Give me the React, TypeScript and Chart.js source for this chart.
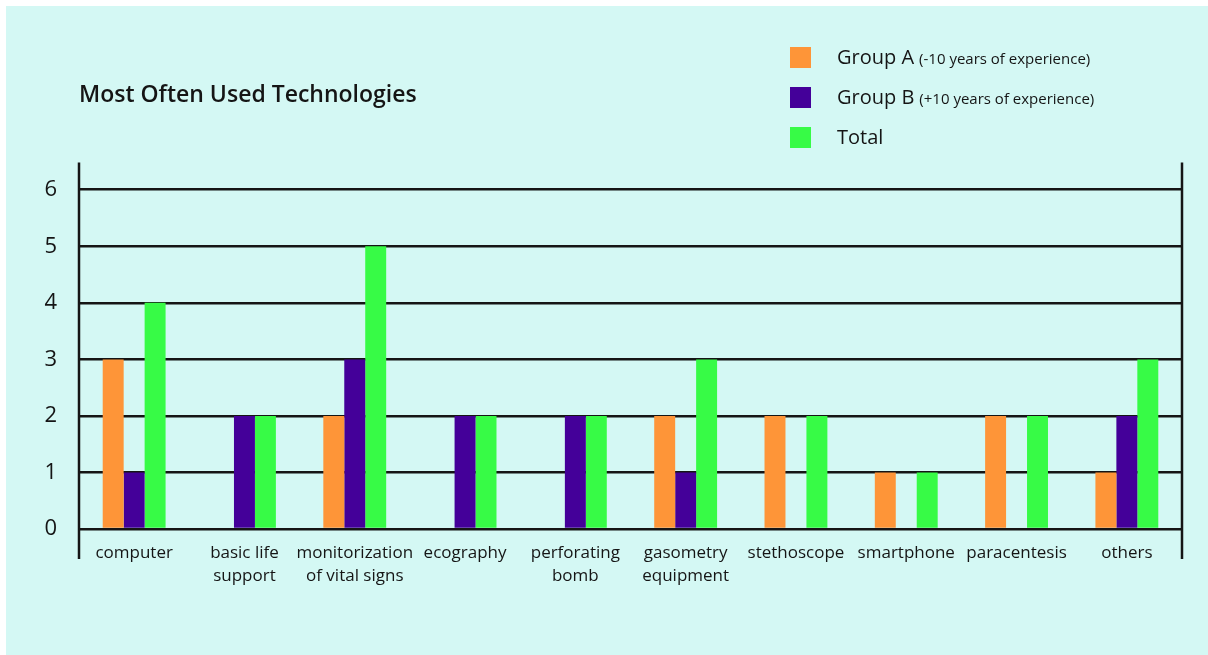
import React, { useEffect, useRef } from "react";
import { Chart, registerables } from "chart.js";

Chart.register(...registerables);

const categories: string[][] = [
  ["computer"],
  ["basic life", "support"],
  ["monitorization", "of vital signs"],
  ["ecography"],
  ["perforating", "bomb"],
  ["gasometry", "equipment"],
  ["stethoscope"],
  ["smartphone"],
  ["paracentesis"],
  ["others"],
];

const groupA: number[] = [3, 0, 2, 0, 0, 2, 2, 1, 2, 1];
const groupB: number[] = [1, 2, 3, 2, 2, 1, 0, 0, 0, 2];
const total: number[] = [4, 2, 5, 2, 2, 3, 2, 1, 2, 3];

const seriesNames: string[] = ["Group A", "Group B", "Total"];
const seriesNotes: string[] = ["(-10 years of experience)", "(+10 years of experience)", ""];
const seriesColors: string[] = ["#fe9538", "#440099", "#37fb46"];

const yTicks: number[] = [0, 1, 2, 3, 4, 5, 6];
const yMax = 6.48;

const titleText = "Most Often Used Technologies";
const FONT = "'Open Sans', sans-serif";
const INK = "#151515";
const BG = "#d4f8f4";

const frameLines = {
  id: "frameLines",
  afterDraw(chart: any) {
    const { ctx, chartArea } = chart;
    ctx.save();
    ctx.strokeStyle = INK;
    ctx.lineWidth = 2.5;
    ctx.beginPath();
    ctx.moveTo(chartArea.left, chartArea.top);
    ctx.lineTo(chartArea.left, chartArea.bottom + 30);
    ctx.moveTo(chartArea.right, chartArea.top);
    ctx.lineTo(chartArea.right, chartArea.bottom + 30);
    ctx.stroke();
    ctx.restore();
  },
};

const customLegend = {
  id: "customLegend",
  afterDraw(chart: any) {
    const { ctx } = chart;
    const boxX = 784;
    const textX = 831;
    const boxSize = 21;
    const centers = [51.5, 91.5, 131.5];
    ctx.save();
    chart.data.datasets.forEach((ds: any, i: number) => {
      const cy = centers[i];
      ctx.fillStyle = ds.backgroundColor;
      ctx.fillRect(boxX, cy - boxSize / 2, boxSize, boxSize);
      ctx.fillStyle = INK;
      ctx.textBaseline = "alphabetic";
      ctx.textAlign = "left";
      ctx.font = `20px ${FONT}`;
      const name = seriesNames[i];
      ctx.fillText(name, textX, cy + 6.5);
      const w = ctx.measureText(name).width;
      if (seriesNotes[i]) {
        ctx.font = `15px ${FONT}`;
        ctx.fillText(seriesNotes[i], textX + w + 5, cy + 6.5);
      }
    });
    ctx.restore();
  },
};

export default function App() {
  const canvasRef = useRef<HTMLCanvasElement | null>(null);

  useEffect(() => {
    if (!canvasRef.current) return;
    const chart = new Chart(canvasRef.current, {
      type: "bar",
      data: {
        labels: categories,
        datasets: [
          { label: seriesNames[0], data: groupA, backgroundColor: seriesColors[0] },
          { label: seriesNames[1], data: groupB, backgroundColor: seriesColors[1] },
          { label: seriesNames[2], data: total, backgroundColor: seriesColors[2] },
        ],
      },
      options: {
        animation: false,
        responsive: true,
        maintainAspectRatio: false,
        datasets: {
          bar: { barPercentage: 1, categoryPercentage: 0.57 },
        },
        layout: { padding: { left: 33, right: 26, top: 0, bottom: 54 } },
        plugins: {
          legend: { display: false },
          tooltip: { enabled: false },
          title: {
            display: true,
            text: titleText,
            align: "start",
            fullSize: false,
            color: INK,
            font: { family: FONT, size: 23, weight: "600" },
            padding: { top: 76, bottom: 53 },
          },
        },
        scales: {
          x: {
            grid: { display: false, drawTicks: false },
            border: { display: false },
            ticks: {
              color: INK,
              font: { family: FONT, size: 17, lineHeight: 1.35 },
              padding: 13,
              maxRotation: 0,
              minRotation: 0,
              autoSkip: false,
            },
          },
          y: {
            min: 0,
            max: yMax,
            afterBuildTicks: (scale: any) => {
              scale.ticks = yTicks.map((v) => ({ value: v }));
            },
            afterFit: (scale: any) => {
              scale.width = 40;
            },
            grid: { color: INK, lineWidth: 2.5, drawTicks: false },
            border: { display: false },
            ticks: {
              color: INK,
              font: { family: FONT, size: 22 },
              padding: 22,
            },
          },
        },
      },
      plugins: [frameLines, customLegend],
    });
    return () => chart.destroy();
  }, []);

  return (
    <div
      style={{
        position: "absolute",
        left: 6,
        top: 6,
        width: 1202,
        height: 649,
        background: BG,
      }}
    >
      <canvas ref={canvasRef} />
    </div>
  );
}
